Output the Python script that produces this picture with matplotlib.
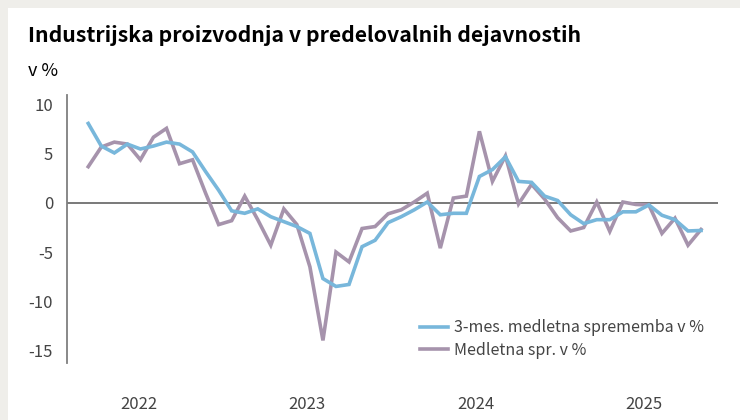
import matplotlib
matplotlib.use("Agg")
import matplotlib.pyplot as plt
from matplotlib.patches import Rectangle

# monthly values, 48 months
three_month = [8.1, 5.8, 5.1, 6.0, 5.5, 5.8, 6.2, 6.0, 5.2, 3.2,
               1.3, -0.8, -1.05, -0.6, -1.4, -1.9, -2.4, -3.1, -7.7, -8.5,
               -8.3, -4.45, -3.8, -2.0, -1.4, -0.7, 0.1, -1.2, -1.05, -1.05,
               2.7, 3.4, 4.7, 2.2, 2.1, 0.7, 0.25, -1.2, -2.1, -1.7,
               -1.7, -0.9, -0.9, -0.2, -1.25, -1.7, -2.85, -2.8]
yoy = [3.7, 5.7, 6.2, 6.0, 4.4, 6.7, 7.6, 4.0, 4.4, 1.0,
       -2.2, -1.8, 0.7, -1.7, -4.3, -0.6, -2.2, -6.5, -14.0, -5.0,
       -6.0, -2.6, -2.4, -1.1, -0.7, 0.1, 1.0, -4.6, 0.5, 0.7,
       7.3, 2.2, 4.8, -0.1, 1.9, 0.4, -1.5, -2.85, -2.5, 0.1,
       -2.9, 0.1, -0.15, -0.2, -3.1, -1.55, -4.3, -2.7]
years = ["2022", "2023", "2024", "2025"]
year_pos = [3.9, 16.8, 29.7, 42.6]
yticks = [10, 5, 0, -5, -10, -15]

blue = "#78b7db"
purple = "#a693ac"
fam = ["Noto Sans CJK SC", "DejaVu Sans"]

fig = plt.figure(figsize=(7.4, 4.2), dpi=100)
fig.patch.set_facecolor("#efeeea")
fig.patches.append(Rectangle((8 / 740, 0), 1, 1 - 8 / 420, transform=fig.transFigure,
                             facecolor="white", edgecolor="none", zorder=-5))

ax = fig.add_axes([67 / 740, 1 - 363 / 420, (718 - 67) / 740, (363 - 95) / 420])
ax.set_facecolor("none")
ax.set_zorder(2)

x = list(range(len(yoy)))
ax.plot(x, three_month, color=blue, lw=2.6, label="3-mes. medletna sprememba v %", zorder=3,
        solid_joinstyle="miter")
ax.plot(x, yoy, color=purple, lw=2.6, label="Medletna spr. v %", zorder=2,
        solid_joinstyle="miter")
ax.axhline(0, color="#555555", lw=1.1, zorder=1)

ax.set_xlim(-1.63, 48.3)
ax.set_ylim(-16.3, 11.0)
ax.set_yticks(yticks)
ax.set_yticklabels([str(v) for v in yticks], family=fam, fontsize=12, color="#444444",
                   fontweight="light")
ax.set_xticks(year_pos)
ax.set_xticklabels(years, family=fam, fontsize=12, color="#444444", fontweight="light")
ax.tick_params(axis="both", length=0)
ax.tick_params(axis="y", pad=10)
ax.tick_params(axis="x", pad=24)

for s in ["top", "right", "bottom"]:
    ax.spines[s].set_visible(False)
ax.spines["left"].set_color("#7f7f7f")
ax.spines["left"].set_linewidth(1.3)

leg = ax.legend(loc="upper left", bbox_to_anchor=(406 / 740, 1 - 305 / 420),
                bbox_transform=fig.transFigure, frameon=False, handlelength=1.7,
                handletextpad=0.4, labelspacing=0.35,
                prop={"family": fam, "size": 11.5, "weight": "light"})
for t in leg.get_texts():
    t.set_color("#444444")

fig.text(28 / 740, 1 - 36 / 420, "Industrijska proizvodnja v predelovalnih dejavnostih",
         fontsize=15.3, fontweight="bold", family=fam, va="center", color="black")
fig.text(28 / 740, 1 - 71 / 420, "v %", fontsize=13, family=fam, va="center", color="black")

fig.savefig("out.png", dpi=100, facecolor=fig.get_facecolor())
